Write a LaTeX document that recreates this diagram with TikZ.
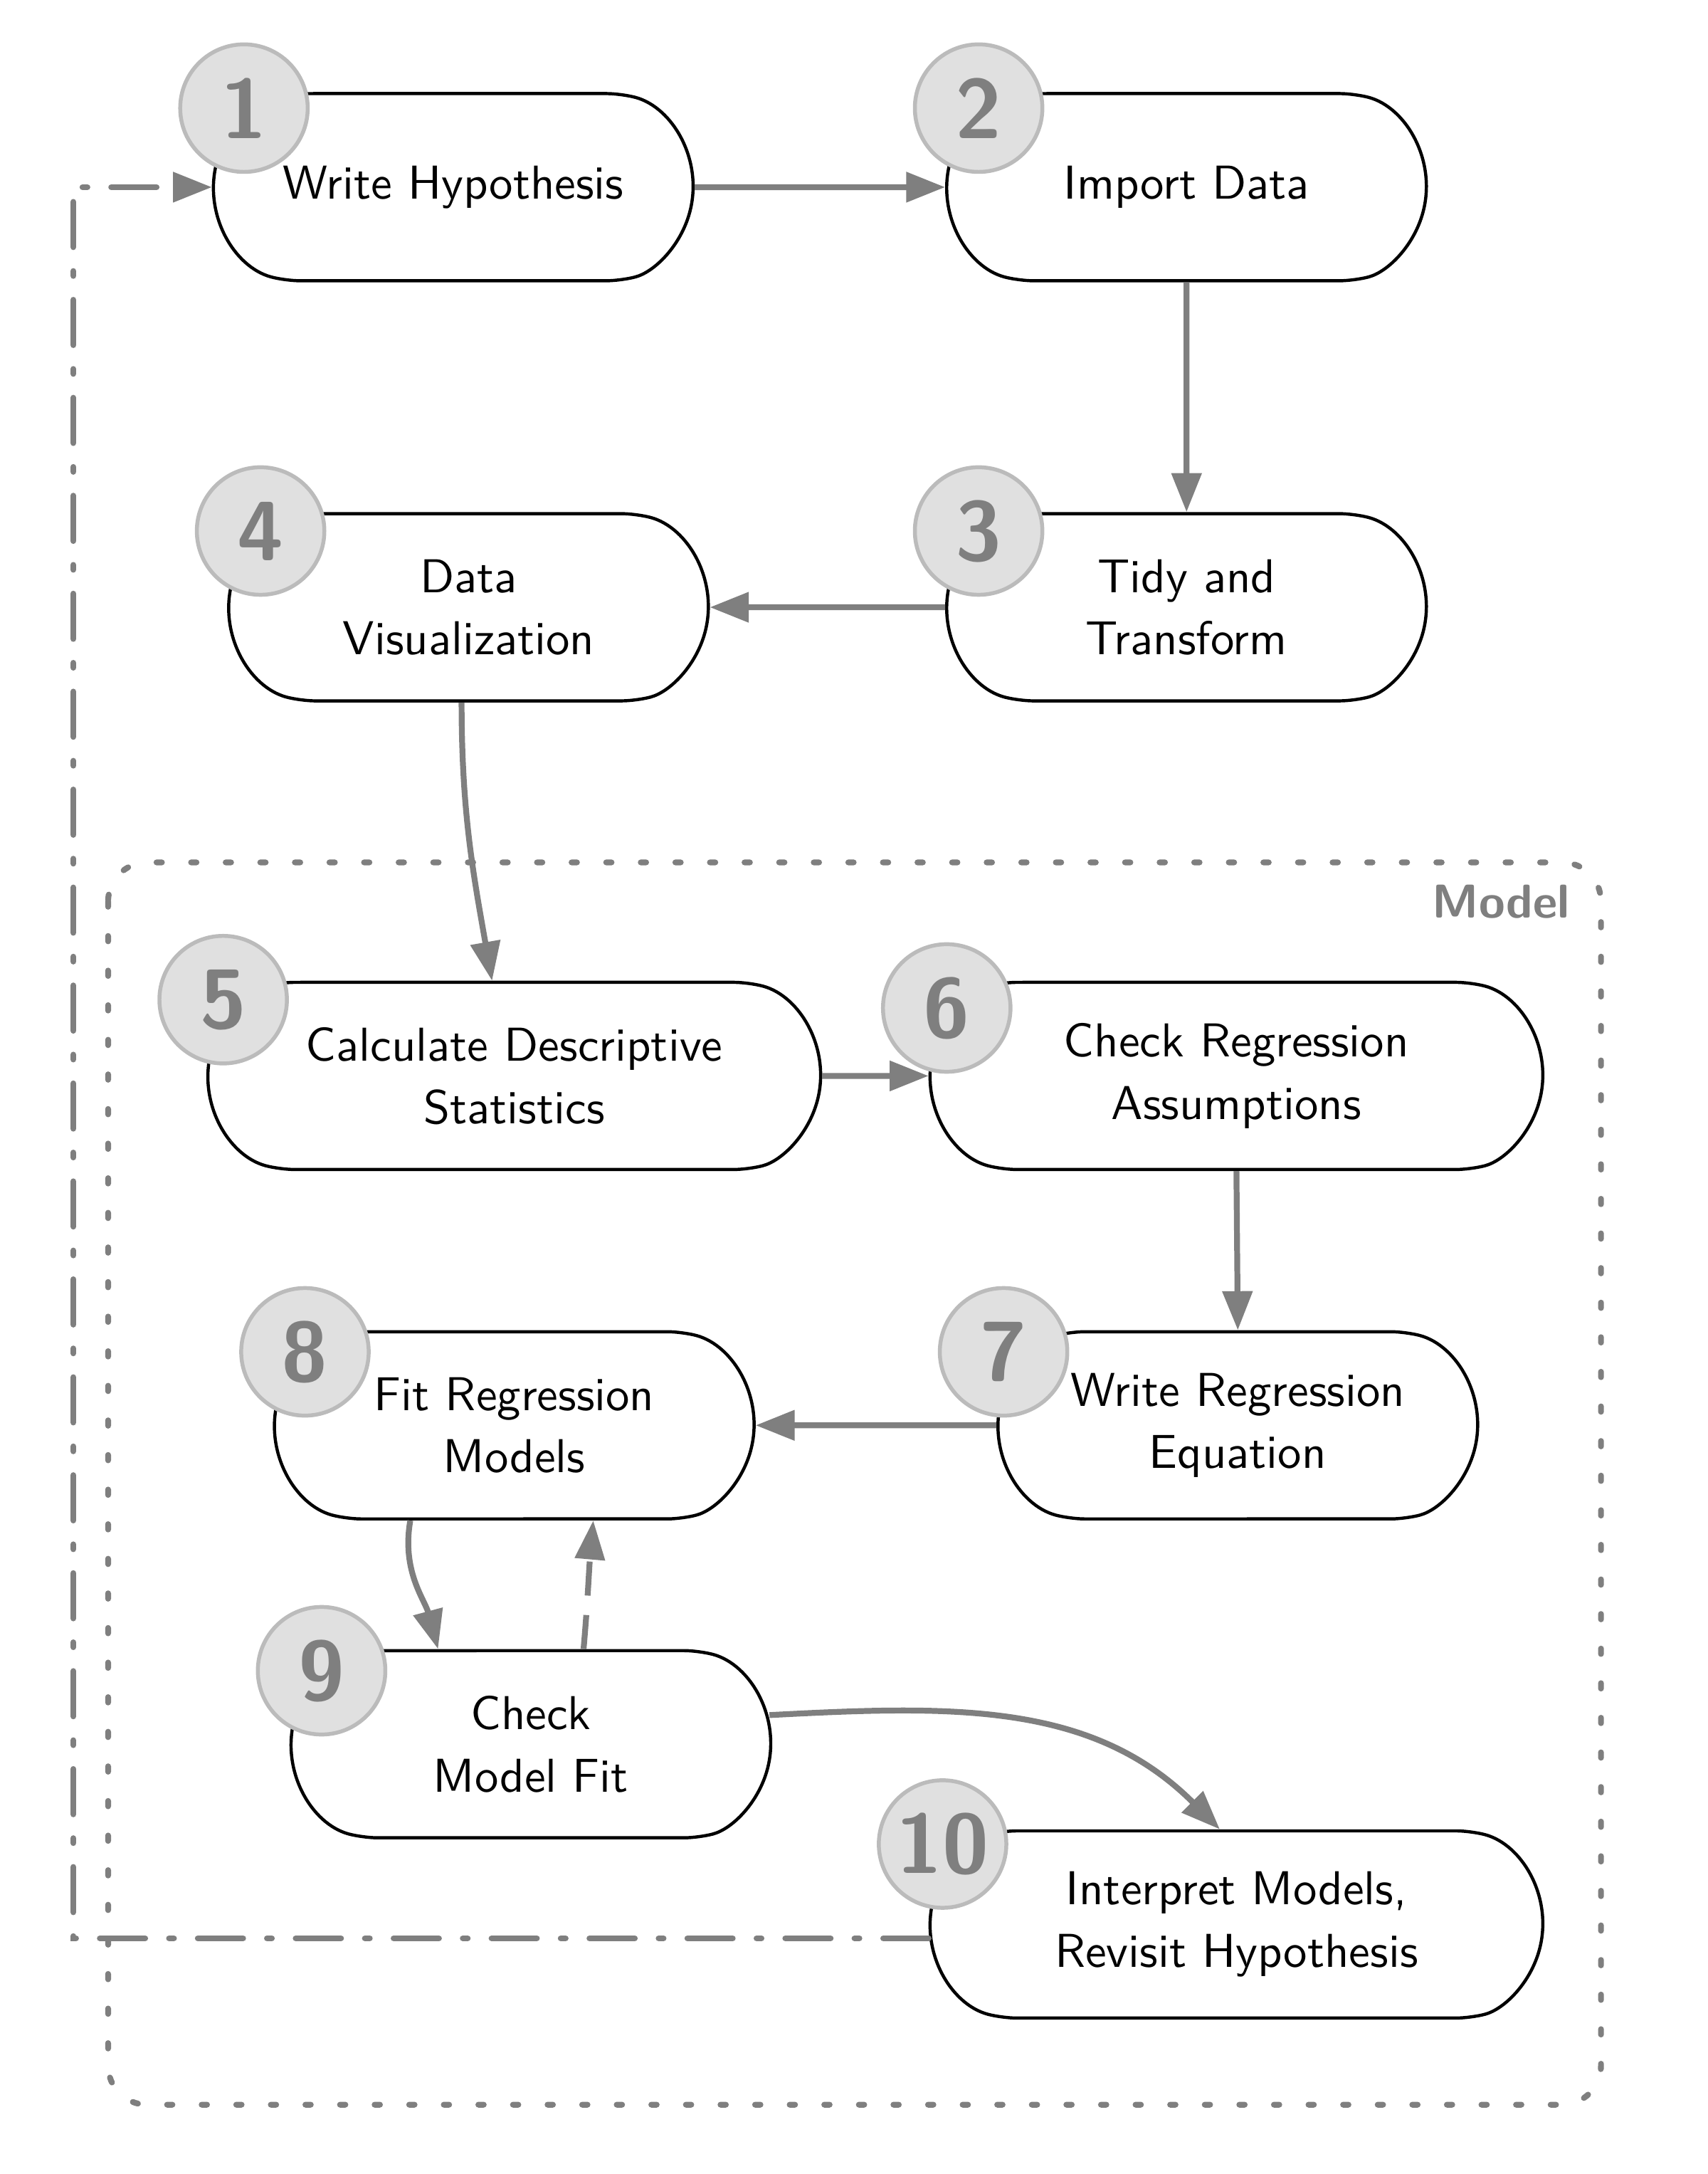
\documentclass[tikz,border=0pt]{standalone}
\usepackage{tikz}
\usetikzlibrary{shapes.misc,arrows.meta}
\definecolor{gristrait}{HTML}{7F7F7F}
\definecolor{grisfond}{HTML}{E0E0E0}
\definecolor{grisbord}{HTML}{BBBBBB}
\begin{document}
\begin{tikzpicture}[xscale=1,yscale=1,font=\sffamily\fontsize{9.75}{12.8}\selectfont]
% Styles
\tikzstyle{etape}=[draw,fill=white,line width=0.65pt,rounded rectangle,rounded rectangle arc length=150,rounded corners=3pt,minimum width=3.60cm,minimum height=1.35cm,align=center,inner sep=2pt]
\tikzstyle{large}=[etape,minimum width=4.56cm]
\tikzstyle{numero}=[circle,fill=grisfond,draw=grisbord,line width=0.8pt,minimum size=0.92cm,inner sep=0pt,text=gristrait,font=\sffamily\bfseries\LARGE]
\tikzstyle{fleche}=[-{Triangle[length=8pt,width=6pt]},draw=gristrait,line width=1.2pt]
\tikzstyle{pointille}=[fleche,dash pattern={on 7pt off 4pt}]
\tikzstyle{retour}=[fleche,line cap=round,dash pattern={on 9.3pt off 4.9pt on 1pt off 4.9pt}]
\tikzstyle{cadre}=[draw=gristrait,line width=1.2pt,line cap=round,dash pattern={on 1.1pt off 6pt},rounded corners=8pt]
% Cadre
\useasboundingbox (0,0) rectangle (12.32,-15.68);
\draw[cadre] (0.78,-6.22) rectangle (11.55,-15.18);
\node[anchor=base east,inner sep=0pt,text=gristrait,font=\sffamily\bfseries\fontsize{9.75}{12}\selectfont] (Mod) at (11.33,-6.62) {Model};
% Noeuds
\node[etape] (E1) at (3.27,-1.35) {Write Hypothesis};
\node[etape] (E2) at (8.56,-1.35) {Import Data};
\node[etape] (E3) at (8.56,-4.38) {Tidy and\\Transform};
\node[etape] (E4) at (3.38,-4.38) {Data\\Visualization};
\node[large] (E5) at (3.71,-7.76) {Calculate Descriptive\\Statistics};
\node[large] (E6) at (8.92,-7.76) {Check Regression\\Assumptions};
\node[etape] (E7) at (8.93,-10.28) {Write Regression\\Equation};
\node[etape] (E8) at (3.71,-10.28) {Fit Regression\\Models};
\node[etape] (E9) at (3.83,-12.58) {Check\\Model Fit};
\node[large] (E10) at (8.92,-13.88) {Interpret Models,\\Revisit Hypothesis};
% Numeros
\node[numero] (N1) at (1.76,-0.78) {1};
\node[numero] (N2) at (7.06,-0.78) {2};
\node[numero] (N3) at (7.06,-3.83) {3};
\node[numero] (N4) at (1.88,-3.83) {4};
\node[numero] (N5) at (1.61,-7.21) {5};
\node[numero] (N6) at (6.83,-7.27) {6};
\node[numero] (N7) at (7.24,-9.75) {7};
\node[numero] (N8) at (2.20,-9.75) {8};
\node[numero] (N9) at (2.32,-12.05) {9};
\node[numero] (N10) at (6.80,-13.30) {10};
% Arcs
\draw[fleche] (E1)--(E2);
\draw[fleche] (E2)--(E3);
\draw[fleche] (E3)--(E4);
\draw[fleche] ([xshift=-0.05cm]E4.south) to[out=-90,in=100] ([xshift=-0.16cm]E5.north);
\draw[fleche] (E5)--(E6);
\draw[fleche] (E6.south)--(E7.north);
\draw[fleche] (E7)--(E8);
\draw[fleche] ([xshift=-0.75cm]E8.south) to[out=-100,in=105] ([xshift=-0.67cm]E9.north);
\draw[pointille] ([xshift=0.38cm]E9.north) to[out=85,in=-95] ([xshift=0.57cm]E8.south);
\draw[fleche] ([xshift=-0.02cm,yshift=0.21cm]E9.east) to[out=3,in=135] ([xshift=-0.12cm]E10.north);
\draw[retour] ([yshift=-0.1cm]E10.west) -| ([xshift=-1cm]E1.west) -- (E1.west);
\end{tikzpicture}
\end{document}
